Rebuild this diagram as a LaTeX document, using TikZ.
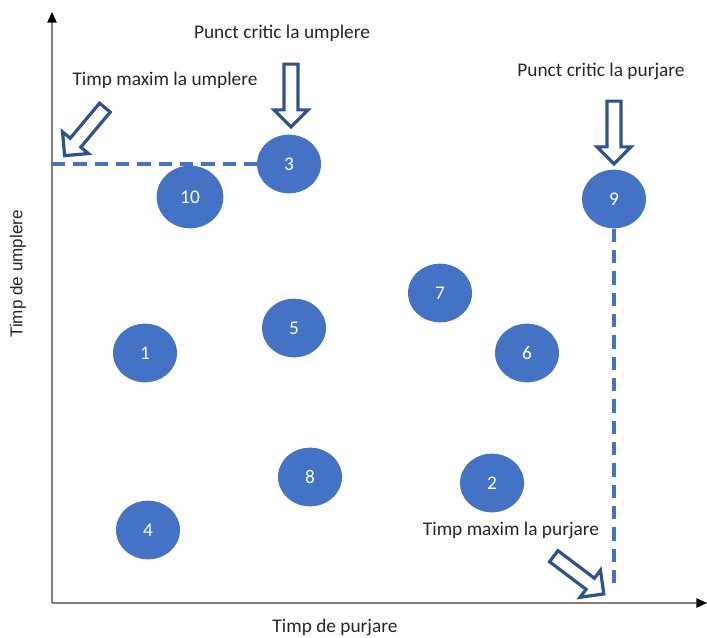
\documentclass[tikz,border=0pt]{standalone}
\usepackage{fontspec}
\setmainfont{Carlito}
\newfontfamily\arialfont{Liberation Sans}
\usetikzlibrary{arrows.meta,shapes.geometric,shapes.arrows}
\definecolor{ofBlue}{HTML}{4472C4}
\definecolor{ofDark}{HTML}{2F528F}
\definecolor{axGray}{HTML}{808080}
\definecolor{txtGray}{HTML}{262626}

\begin{document}
\begin{tikzpicture}[x=0.75pt,y=-0.75pt,
  every node/.style={font=\fontsize{14.5}{17}\selectfont,text=txtGray},
  job/.style={ellipse,fill=ofBlue,minimum width=48pt,minimum height=44pt,
    inner sep=0pt,text=white},
  blockarr/.style={single arrow,draw=ofDark,line width=2.4pt,fill=white,
    minimum height=47pt,inner sep=4pt,single arrow head extend=7.5pt,
    single arrow head indent=0pt},
  critline/.style={draw=ofBlue,line width=2.4pt,dash pattern=on 10pt off 6pt},
  axisline/.style={draw=axGray,line width=1.1pt,
    -{Triangle[color=black,length=8pt,width=7pt]}}]
  \useasboundingbox (0,0) rectangle (707,637);

  % axes
  \coordinate (O) at (52,603);
  \coordinate (ytop) at (52,12);
  \coordinate (xend) at (707,603);
  \draw[axisline] (O) -- (ytop);
  \draw[axisline] (O) -- (xend);
  \node (xlab) at (335,627) {Timp de purjare};
  \node[rotate=90,font=\arialfont\fontsize{12.8}{15}\selectfont] (ylab)
    at (18,274) {Timp de umplere};

  % points
  \node[job] (p1) at (145,353) {1};
  \node[job] (p2) at (492,483) {2};
  \node[job] (p3) at (289,164) {3};
  \node[job] (p4) at (148,530) {4};
  \node[job] (p5) at (294,328) {5};
  \node[job] (p6) at (527,353) {6};
  \node[job] (p7) at (440,293) {7};
  \node[job] (p8) at (310,477) {8};
  \node[job] (p9) at (614,199) {9};
  \node[job,minimum width=50pt,minimum height=47pt] (p10) at (190,197) {10};

  % critical limits
  \coordinate (ymax) at (52,164);
  \coordinate (xmax) at (614,590);
  \draw[critline] (ymax) -- (p3.west);
  \draw[critline] (p9.south) -- (xmax);

  % labels and block arrows
  \node (pcu) at (282,33) {Punct critic la umplere};
  \node[blockarr,rotate=-90] (au) at (291,92) {};
  \node (pcp) at (601,71) {Punct critic la purjare};
  \node[blockarr,rotate=-90] (ap) at (614,129) {};
  \node (tmu) at (165,80) {Timp maxim la umplere};
  \node[blockarr,rotate=230] (amu) at (87,129) {};
  \node (tmp) at (511,530) {Timp maxim la purjare};
  \node[blockarr,rotate=-37] (amp) at (576,573) {};
\end{tikzpicture}
\end{document}
